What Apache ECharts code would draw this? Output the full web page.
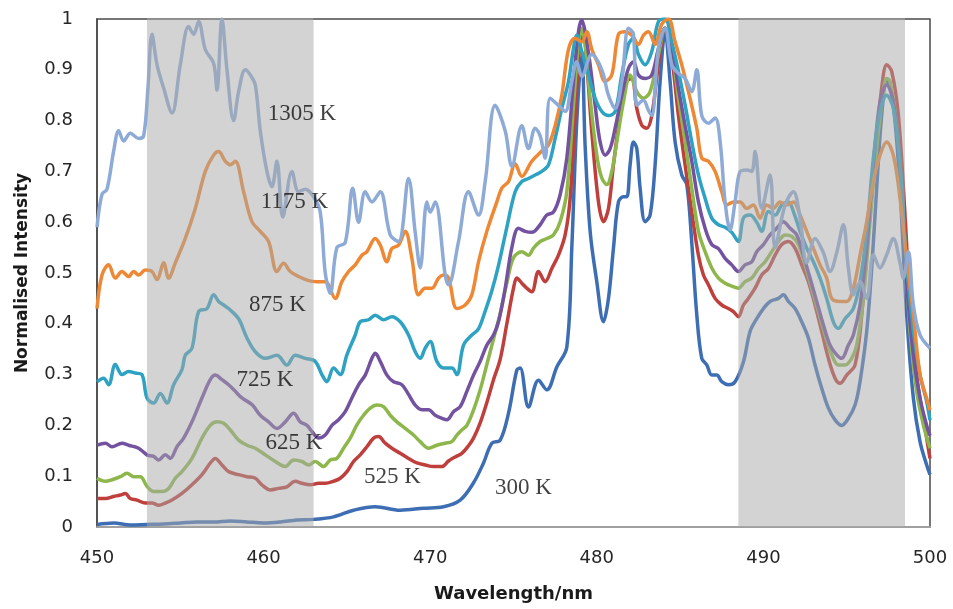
<!DOCTYPE html>
<html>
<head>
<meta charset="utf-8">
<script src="https://cdn.jsdelivr.net/npm/echarts@6/dist/echarts.min.js"></script>
<style>
html,body{margin:0;padding:0;background:#fff;}
#chart{width:953px;height:609px;}
</style>
</head>
<body>
<div id="chart"></div>
<script>
// ---- Data ----
const seriesNames = ['300 K','525 K','625 K','725 K','875 K','1175 K','1305 K'];

const wl300 = [450,451,452,453,454,455,456,457,458,459,460,461,462,463,464.2,465.4,466.7,468.2,469.6,470.8,471.8,472.6,473.2,473.7,474.2,474.7,475.2,475.4,475.9,476.5,477.0,477.6,478.2,478.5,478.8,479.1,479.3,479.6,480.0,480.4,480.7,481.0,481.3,481.6,481.8,482.0,482.2,482.4,482.6,482.9,483.2,483.5,483.8,484.1,484.4,484.7,485.1,485.4,485.7,486.0,486.3,486.6,486.9,487.2,487.5,487.9,488.3,488.8,489.2,489.6,490.0,490.4,490.9,491.2,491.5,491.9,492.3,492.7,493.1,493.5,493.9,494.3,494.7,495.1,495.5,495.8,496.2,496.5,496.8,497.1,497.4,497.6,497.9,498.2,498.6,499.0,499.4,499.8,500];
const int300 = [0.005,0.008,0.004,0.005,0.006,0.008,0.01,0.01,0.012,0.01,0.008,0.01,0.014,0.015,0.02,0.033,0.04,0.033,0.037,0.04,0.053,0.087,0.126,0.165,0.171,0.224,0.309,0.313,0.236,0.289,0.27,0.315,0.354,0.55,0.80,0.93,0.75,0.582,0.483,0.404,0.45,0.549,0.64,0.65,0.65,0.713,0.758,0.745,0.667,0.601,0.614,0.713,0.877,0.975,0.877,0.758,0.693,0.674,0.56,0.418,0.332,0.319,0.299,0.299,0.286,0.28,0.286,0.325,0.385,0.41,0.43,0.444,0.45,0.457,0.444,0.43,0.404,0.372,0.319,0.273,0.234,0.211,0.2,0.214,0.24,0.286,0.385,0.509,0.667,0.811,0.877,0.87,0.799,0.667,0.418,0.254,0.168,0.122,0.103];

const wl525 = [450,450.5,451.0,451.4,451.7,452.0,452.4,452.9,453.3,453.7,454.1,454.5,455.1,455.7,456.3,456.8,457.1,457.5,457.9,458.5,459.0,459.5,459.9,460.4,460.9,461.4,461.9,462.3,462.8,463.3,463.7,464.2,464.6,465.0,465.4,465.8,466.2,466.6,466.9,467.3,467.7,468.2,468.7,469.2,469.7,470.2,470.7,471.1,471.5,471.9,472.3,472.6,473.0,473.4,473.8,474.2,474.6,475.0,475.2,475.5,475.8,476.1,476.5,476.9,477.3,477.7,478.1,478.4,478.7,479.0,479.2,479.4,479.7,480.1,480.4,480.7,481.0,481.4,481.8,482.1,482.4,482.7,483.0,483.3,483.7,484.1,484.5,484.9,485.3,485.7,486.1,486.4,486.7,487.1,487.5,487.9,488.2,488.5,488.8,489.1,489.5,489.9,490.3,490.7,491.1,491.5,491.9,492.3,492.7,493.1,493.5,493.9,494.3,494.6,495.0,495.5,495.9,496.3,496.7,497.1,497.4,497.7,498.1,498.5,498.9,499.3,499.7,500];
const int525 = [0.056,0.056,0.06,0.063,0.066,0.056,0.053,0.047,0.047,0.043,0.047,0.053,0.066,0.083,0.103,0.126,0.135,0.122,0.109,0.103,0.099,0.096,0.083,0.073,0.076,0.079,0.09,0.086,0.083,0.086,0.086,0.09,0.096,0.109,0.129,0.142,0.158,0.175,0.178,0.165,0.155,0.145,0.135,0.126,0.122,0.119,0.119,0.13,0.138,0.145,0.16,0.175,0.205,0.245,0.29,0.33,0.40,0.47,0.49,0.48,0.47,0.463,0.503,0.483,0.509,0.535,0.575,0.647,0.811,0.955,0.968,0.91,0.778,0.64,0.601,0.627,0.713,0.81,0.877,0.883,0.824,0.791,0.785,0.81,0.91,0.982,0.923,0.81,0.713,0.62,0.535,0.496,0.477,0.45,0.437,0.43,0.424,0.414,0.437,0.45,0.47,0.496,0.509,0.535,0.556,0.562,0.549,0.516,0.483,0.437,0.385,0.332,0.293,0.283,0.299,0.319,0.417,0.582,0.732,0.864,0.91,0.897,0.811,0.614,0.385,0.274,0.195,0.135];

const wl625 = [450,450.5,450.9,451.4,451.8,452.2,452.6,453.0,453.4,453.9,454.3,454.7,455.1,455.7,456.3,456.8,457.2,457.6,458.0,458.5,459.0,459.5,460.1,460.7,461.3,461.8,462.3,462.7,463.1,463.6,464.0,464.4,464.8,465.2,465.6,466.0,466.4,466.8,467.2,467.6,468.0,468.5,469.0,469.4,469.9,470.4,470.9,471.3,471.6,471.9,472.2,472.6,473.0,473.4,473.8,474.2,474.6,475.0,475.5,475.9,476.2,476.6,477.0,477.4,477.8,478.2,478.6,478.9,479.1,479.3,479.6,480.0,480.3,480.6,480.9,481.2,481.6,482.0,482.4,482.8,483.2,483.7,484.1,484.5,484.9,485.3,485.7,486.1,486.5,486.9,487.3,487.7,488.1,488.5,488.9,489.3,489.7,490.1,490.5,490.9,491.3,491.7,492.1,492.5,492.9,493.3,493.7,494.1,494.5,494.9,495.3,495.6,496.0,496.4,496.8,497.2,497.4,497.6,498.0,498.4,498.8,499.2,499.6,500];
const int625 = [0.096,0.09,0.093,0.099,0.106,0.099,0.099,0.08,0.07,0.07,0.076,0.096,0.109,0.135,0.175,0.20,0.207,0.204,0.191,0.171,0.161,0.155,0.142,0.129,0.119,0.132,0.129,0.122,0.129,0.119,0.132,0.135,0.155,0.175,0.201,0.22,0.234,0.24,0.237,0.22,0.207,0.194,0.181,0.168,0.155,0.161,0.165,0.168,0.181,0.191,0.20,0.23,0.27,0.32,0.37,0.42,0.48,0.53,0.542,0.535,0.549,0.562,0.568,0.575,0.601,0.66,0.83,0.95,0.982,0.95,0.844,0.732,0.687,0.674,0.70,0.758,0.837,0.89,0.857,0.844,0.857,0.93,0.982,0.936,0.844,0.758,0.667,0.582,0.542,0.51,0.49,0.48,0.474,0.47,0.483,0.49,0.509,0.522,0.542,0.562,0.575,0.572,0.556,0.516,0.47,0.424,0.378,0.339,0.319,0.319,0.332,0.358,0.45,0.601,0.746,0.857,0.883,0.877,0.79,0.614,0.385,0.266,0.201,0.155];

const wl725 = [450,450.5,450.9,451.5,451.9,452.5,453.0,453.4,453.7,454.1,454.4,454.8,455.2,455.7,456.3,456.8,457.1,457.5,457.9,458.3,458.7,459.3,459.8,460.3,460.8,461.3,461.8,462.2,462.6,462.9,463.3,463.7,464.1,464.5,464.9,465.3,465.7,466.1,466.5,466.7,467.0,467.4,467.8,468.3,468.7,469.1,469.5,469.9,470.3,470.7,471.0,471.4,471.8,472.2,472.6,473.0,473.4,473.8,474.1,474.5,474.9,475.3,475.7,476.1,476.6,477.0,477.4,477.8,478.2,478.6,478.9,479.1,479.3,479.6,479.9,480.2,480.5,480.8,481.1,481.5,481.9,482.2,482.5,482.9,483.3,483.7,484.1,484.5,484.9,485.3,485.7,486.1,486.5,486.9,487.3,487.7,488.1,488.5,488.9,489.3,489.6,490.0,490.4,490.8,491.2,491.6,492.0,492.4,492.8,493.2,493.6,494.0,494.4,494.7,495.1,495.4,495.8,496.2,496.6,497.0,497.4,497.8,498.2,498.6,499.0,499.4,499.8,500];
const int725 = [0.161,0.165,0.158,0.165,0.161,0.155,0.142,0.139,0.132,0.142,0.135,0.158,0.175,0.207,0.254,0.29,0.299,0.29,0.28,0.267,0.254,0.241,0.22,0.207,0.194,0.207,0.224,0.207,0.20,0.188,0.175,0.181,0.20,0.211,0.227,0.254,0.28,0.299,0.332,0.342,0.326,0.299,0.286,0.28,0.261,0.24,0.231,0.231,0.22,0.214,0.211,0.227,0.237,0.267,0.299,0.326,0.358,0.378,0.404,0.47,0.55,0.588,0.582,0.58,0.595,0.614,0.62,0.654,0.726,0.877,0.975,0.998,0.975,0.91,0.83,0.758,0.732,0.745,0.785,0.85,0.903,0.916,0.89,0.883,0.89,0.942,0.982,0.942,0.864,0.79,0.72,0.64,0.588,0.556,0.548,0.529,0.516,0.503,0.516,0.522,0.542,0.556,0.575,0.588,0.601,0.588,0.575,0.535,0.49,0.444,0.398,0.358,0.339,0.332,0.358,0.378,0.437,0.549,0.713,0.837,0.87,0.837,0.713,0.483,0.339,0.254,0.20,0.18];

const wl875 = [450,450.4,450.7,451.1,451.5,451.9,452.3,452.7,453.0,453.4,453.8,454.2,454.6,455.1,455.3,455.7,456.1,456.6,457.0,457.3,457.6,457.9,458.5,459.0,459.5,460.1,460.8,461.4,461.9,462.5,463.1,463.5,463.8,464.2,464.6,465.0,465.5,465.8,466.3,466.7,467.2,467.7,468.2,468.7,469.1,469.4,469.7,470.0,470.4,470.8,471.3,471.6,472.0,472.5,472.9,473.3,473.7,474.1,474.6,475.1,475.5,475.9,476.3,476.7,477.1,477.5,477.9,478.3,478.6,478.8,479.1,479.5,479.9,480.3,480.7,481.1,481.5,481.9,482.2,482.5,482.9,483.3,483.7,484.1,484.5,484.9,485.3,485.7,486.1,486.5,486.9,487.3,487.7,488.1,488.5,488.8,489.2,489.6,489.9,490.3,490.7,491.1,491.5,491.8,492.2,492.6,493.0,493.4,493.8,494.2,494.5,494.9,495.4,495.8,496.2,496.6,497.0,497.4,497.8,498.2,498.6,499.0,499.4,499.8,500];
const int875 = [0.286,0.293,0.28,0.32,0.30,0.306,0.303,0.30,0.254,0.244,0.263,0.244,0.28,0.31,0.338,0.352,0.424,0.43,0.457,0.444,0.437,0.43,0.41,0.372,0.345,0.332,0.338,0.319,0.338,0.332,0.326,0.30,0.286,0.313,0.30,0.339,0.378,0.404,0.408,0.417,0.408,0.414,0.404,0.378,0.345,0.332,0.352,0.365,0.326,0.313,0.313,0.30,0.358,0.378,0.39,0.425,0.465,0.515,0.59,0.66,0.68,0.686,0.693,0.70,0.713,0.765,0.824,0.877,0.942,0.968,0.936,0.89,0.844,0.818,0.81,0.818,0.89,0.95,0.962,0.93,0.91,0.936,0.995,1.0,0.955,0.897,0.831,0.758,0.693,0.647,0.608,0.595,0.59,0.58,0.562,0.608,0.614,0.60,0.582,0.621,0.614,0.634,0.64,0.621,0.582,0.549,0.522,0.49,0.45,0.404,0.391,0.41,0.43,0.483,0.582,0.726,0.818,0.85,0.824,0.713,0.516,0.385,0.30,0.247,0.21];

const wl1175 = [450,450.3,450.7,451.1,451.5,451.9,452.2,452.5,452.9,453.3,453.6,454.0,454.3,454.7,455.3,455.9,456.5,457.0,457.3,457.7,458.0,458.3,458.8,459.3,459.8,460.3,460.8,461.2,461.6,462.1,462.7,463.2,463.7,464.3,464.7,465.1,465.5,465.9,466.2,466.7,467.0,467.4,467.7,468.1,468.5,468.9,469.3,469.7,470.1,470.5,470.8,471.1,471.6,472.1,472.5,472.9,473.4,474.0,474.3,474.7,475.1,475.5,476.1,476.7,477.1,477.5,477.9,478.3,478.7,479.1,479.4,479.7,480.1,480.5,480.9,481.3,481.7,482.1,482.5,482.8,483.1,483.5,483.9,484.3,484.7,485.1,485.5,486.0,486.3,486.7,487.1,487.5,487.8,488.2,488.6,489.0,489.4,489.8,490.2,490.6,491.0,491.4,491.8,492.2,492.6,493.0,493.4,493.8,494.1,494.6,495.0,495.4,495.8,496.2,496.6,497.0,497.4,497.8,498.2,498.6,499.0,499.4,499.8,500];
const int1175 = [0.43,0.496,0.516,0.49,0.503,0.493,0.503,0.496,0.506,0.503,0.487,0.52,0.49,0.52,0.568,0.627,0.70,0.732,0.739,0.72,0.713,0.72,0.66,0.601,0.582,0.562,0.503,0.519,0.503,0.493,0.485,0.483,0.483,0.45,0.483,0.503,0.516,0.535,0.542,0.568,0.555,0.522,0.548,0.555,0.582,0.529,0.457,0.47,0.47,0.49,0.496,0.49,0.43,0.437,0.457,0.522,0.582,0.64,0.667,0.68,0.715,0.69,0.72,0.74,0.752,0.79,0.85,0.94,0.962,0.955,0.975,0.94,0.91,0.877,0.89,0.97,0.975,0.968,0.95,0.968,0.975,0.95,0.99,1.0,0.955,0.91,0.857,0.785,0.726,0.72,0.70,0.66,0.634,0.64,0.64,0.627,0.634,0.608,0.634,0.627,0.64,0.634,0.64,0.614,0.582,0.549,0.516,0.49,0.45,0.444,0.444,0.47,0.535,0.601,0.68,0.732,0.758,0.732,0.647,0.529,0.418,0.30,0.253,0.23];

const wl1305 = [450,450.3,450.6,451.0,451.3,451.6,452.0,452.5,452.8,453.05,453.3,453.6,454.0,454.5,455.0,455.5,455.8,456.1,456.5,457.0,457.2,457.5,457.8,458.2,458.5,458.9,459.2,459.5,459.8,460.2,460.5,460.8,461.15,461.7,462.1,462.5,463.0,463.4,463.7,464.0,464.4,464.9,465.35,465.7,466.1,466.5,467.0,467.6,468.1,468.7,469.1,469.4,469.8,470.0,470.3,470.9,471.1,471.7,472.3,472.9,473.3,473.9,474.5,474.9,475.5,475.9,476.3,476.6,476.9,477.2,477.7,478.1,478.5,478.8,479.1,479.7,480.3,480.7,481.1,481.5,481.9,482.2,482.4,482.8,483.1,483.3,483.7,484.1,484.5,484.9,485.3,485.7,486.0,486.3,486.7,487.1,487.4,487.7,488.0,488.3,488.6,489.0,489.3,489.5,489.9,490.4,490.7,491.3,491.8,492.2,492.6,493.1,493.6,494.0,494.4,494.8,495.1,495.4,495.8,496.2,496.6,497.0,497.4,497.8,498.2,498.4,498.7,499.0,499.4,500];
const int1305 = [0.59,0.655,0.665,0.74,0.78,0.76,0.775,0.765,0.77,0.86,0.97,0.91,0.864,0.815,0.91,0.985,0.97,0.995,0.94,0.913,0.86,1.0,0.9,0.80,0.857,0.9,0.89,0.87,0.78,0.70,0.67,0.72,0.61,0.70,0.66,0.665,0.65,0.62,0.50,0.46,0.55,0.56,0.667,0.60,0.66,0.64,0.66,0.575,0.562,0.686,0.58,0.51,0.64,0.62,0.64,0.496,0.477,0.562,0.66,0.614,0.68,0.83,0.78,0.71,0.79,0.745,0.785,0.77,0.726,0.844,0.83,0.818,0.877,0.916,0.887,0.93,0.90,0.85,0.824,0.877,0.982,0.97,0.83,0.84,0.82,0.81,0.942,0.982,0.91,0.893,0.883,0.857,0.90,0.81,0.795,0.805,0.76,0.64,0.585,0.64,0.70,0.703,0.70,0.739,0.627,0.693,0.55,0.634,0.66,0.608,0.52,0.568,0.54,0.503,0.54,0.595,0.51,0.457,0.483,0.45,0.536,0.51,0.536,0.568,0.52,0.49,0.542,0.437,0.378,0.352];

// shaded wavelength bands
const bandStart = [453, 488.5];
const bandEnd = [463, 498.5];

// curve labels (text, wavelength, intensity of label centre)
const labelText = ['1305 K','1175 K','875 K','725 K','625 K','525 K','300 K'];
const labelWl = [462.3, 461.85, 460.83, 460.08, 461.82, 467.74, 475.6];
const labelInt = [0.813, 0.640, 0.437, 0.289, 0.165, 0.098, 0.077];

// x/y ticks
const xMin = 450, xMax = 500, xStep = 10;
const yMin = 0, yMax = 1, yStep = 0.1;

// ---- Chart ----
const wls = [wl300, wl525, wl625, wl725, wl875, wl1175, wl1305];
const ints = [int300, int525, int625, int725, int875, int1175, int1305];
const colors = ['#3d6eb4','#be3f3b','#8db64b','#7353a0','#2ea2c2','#ee8834','#8eaad6'];

const series = seriesNames.map((n, k) => ({
  name: n,
  type: 'line',
  data: wls[k].map((x, i) => [x, ints[k][i]]),
  smooth: 0.35,
  showSymbol: false,
  symbol: 'none',
  lineStyle: { width: 3.5, color: colors[k] },
  itemStyle: { color: colors[k] },
  z: 2 + k,
  silent: true
}));

// translucent grey bands drawn over the curves (own canvas layer)
series.push({
  name: 'bands',
  type: 'custom',
  zlevel: 1,
  z: 20,
  silent: true,
  data: bandStart.map((s, i) => [s, bandEnd[i]]),
  encode: { x: [0, 1] },
  renderItem: function (params, api) {
    const p0 = api.coord([api.value(0), yMax]);
    const p1 = api.coord([api.value(1), yMin]);
    return {
      type: 'rect',
      shape: { x: p0[0], y: p0[1] - 1, width: p1[0] - p0[0], height: p1[1] - p0[1] + 1 },
      style: { fill: 'rgba(168,168,168,0.5)' }
    };
  }
});

series.push({
  name: 'labels',
  type: 'scatter',
  zlevel: 2,
  z: 30,
  silent: true,
  symbolSize: 1,
  itemStyle: { color: 'rgba(0,0,0,0)' },
  data: labelText.map((t, i) => ({ name: t, value: [labelWl[i], labelInt[i]] })),
  label: {
    show: true,
    position: 'inside',
    formatter: '{b}',
    fontFamily: '"Liberation Serif", "DejaVu Serif", serif',
    fontSize: 23,
    color: '#111'
  }
});

const chart = echarts.init(document.getElementById('chart'), null, { renderer: 'canvas' });
chart.setOption({
  animation: false,
  backgroundColor: '#fff',
  grid: {
    left: 97, right: 23, top: 19, bottom: 82,
    show: true, borderColor: '#4a4a4a', borderWidth: 1.5, backgroundColor: 'transparent'
  },
  xAxis: {
    type: 'value', min: xMin, max: xMax, interval: xStep,
    name: 'Wavelength/nm', nameLocation: 'middle', nameGap: 58,
    nameTextStyle: { fontFamily: 'DejaVu Sans', fontWeight: 'bold', fontSize: 18, color: '#1a1a1a' },
    axisLine: { show: true, lineStyle: { color: '#a0a0a0', width: 2 } },
    axisTick: { show: false },
    splitLine: { show: false },
    axisLabel: { margin: 22, fontFamily: 'DejaVu Sans', fontSize: 18, color: '#262626' }
  },
  yAxis: {
    type: 'value', min: yMin, max: yMax, interval: yStep,
    name: 'Normalised Intensity', nameLocation: 'middle', nameGap: 66,
    nameTextStyle: { fontFamily: 'DejaVu Sans', fontWeight: 'bold', fontSize: 17, color: '#1a1a1a' },
    axisLine: { show: true, lineStyle: { color: '#4a4a4a', width: 1.5 } },
    axisTick: { show: false },
    splitLine: { show: false },
    axisLabel: {
      margin: 24, fontFamily: 'DejaVu Sans', fontSize: 18, color: '#262626',
      formatter: v => String(Math.round(v * 10) / 10)
    }
  },
  series: series
});
</script>
</body>
</html>
